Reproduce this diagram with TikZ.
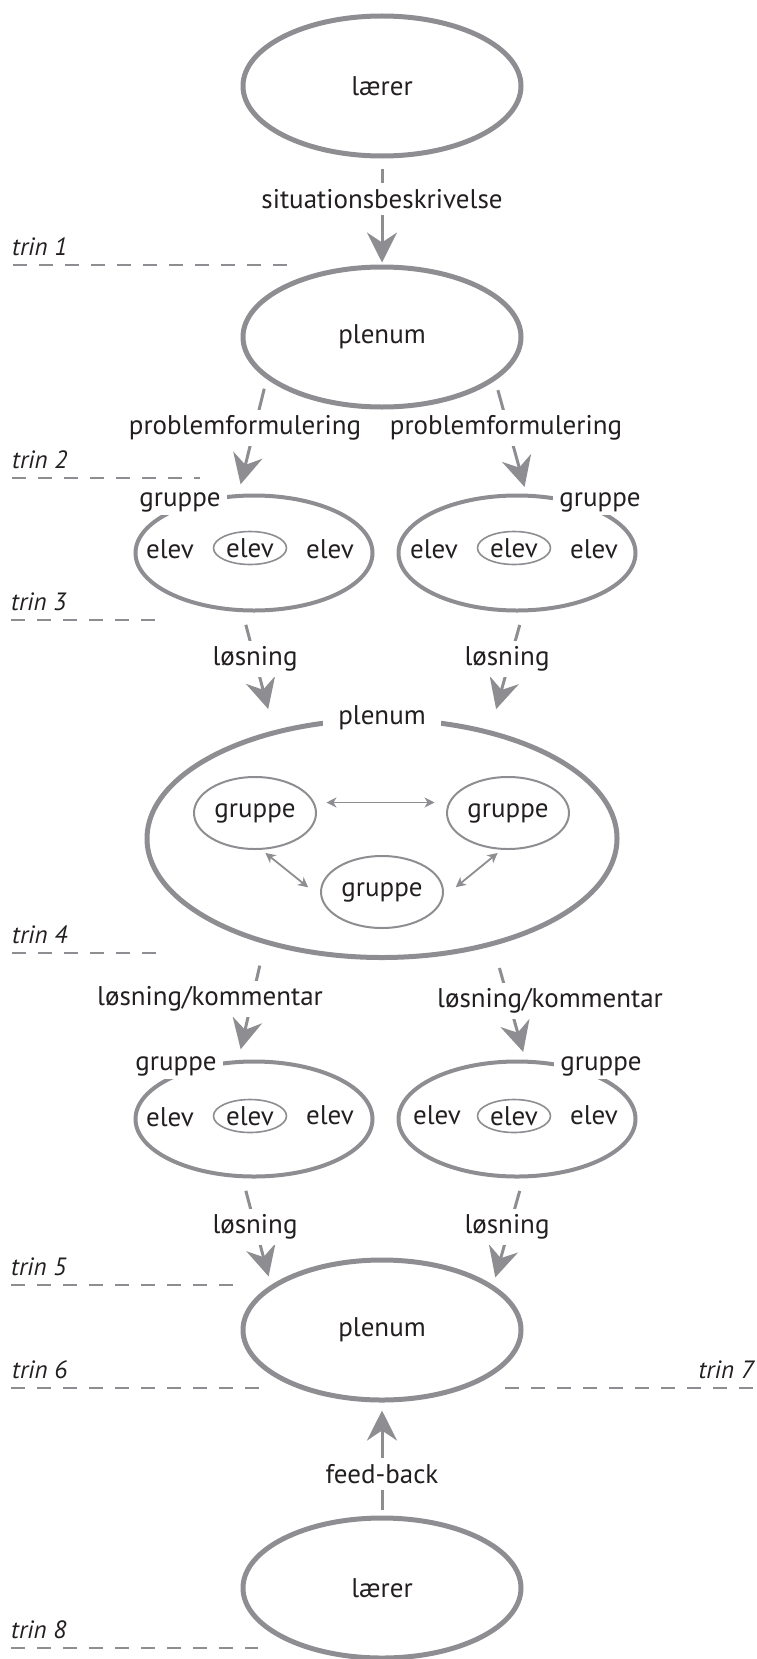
\documentclass[tikz,border=0pt]{standalone}
\usepackage{fontspec}
\setmainfont{PT Sans}
\usetikzlibrary{shapes.geometric,arrows.meta}
\definecolor{lg}{RGB}{142,142,146}
\definecolor{ink}{RGB}{35,31,32}
\tikzset{
  txt/.style={font=\fontsize{27}{32}\selectfont, text=ink},
  big/.style={ellipse, draw=lg, line width=5pt, minimum width=278pt, minimum height=140pt, inner sep=0pt, txt},
  grp/.style={ellipse, draw=lg, line width=4pt, minimum width=237pt, minimum height=115pt, inner sep=0pt},
  elevin/.style={ellipse, draw=lg, line width=1.6pt, minimum width=73pt, minimum height=33pt, inner sep=0pt, txt},
  sub/.style={ellipse, draw=lg, line width=2pt, minimum width=122pt, minimum height=72pt, inner sep=0pt, txt},
  tag/.style={txt, fill=white, inner xsep=6pt, inner ysep=3pt},
  lbl/.style={txt, fill=white, inner xsep=3pt, inner ysep=6pt},
  flow/.style={draw=lg, line width=3pt, -{Stealth[length=30pt, width=30pt, inset=10pt]}},
  swap/.style={draw=lg, line width=1.8pt, {Stealth[length=10pt, width=10pt, inset=3pt]}-{Stealth[length=10pt, width=10pt, inset=3pt]}},
  level/.style={draw=lg, line width=2.5pt, dash pattern=on 14pt off 12pt},
  trin/.style={font=\fontsize{25}{30}\selectfont\itshape, text=ink, inner sep=0pt}
}
\begin{document}
\begin{tikzpicture}[x=1pt, y=-1pt]
\useasboundingbox (0,0) rectangle (756,1659);

% main ellipses
\node[big] (laerer1) at (382,86) {lærer};
\node[big] (plenum1) at (382,337) {plenum};
\node[big] (plenum3) at (382,1330) {plenum};
\node[big] (laerer2) at (382,1588) {lærer};

% first round of groups
\node[grp] (g1L) at (254,553) {};
\node[grp] (g1R) at (517,553) {};
\node[tag] (g1Lt) at (180,502) {gruppe};
\node[tag] (g1Rt) at (600,502) {gruppe};
\node[txt] (e1L1) at (170,549) {elev};
\node[elevin] (e1L2) at (250,548) {elev};
\node[txt] (e1L3) at (330,549) {elev};
\node[txt] (e1R1) at (434,549) {elev};
\node[elevin] (e1R2) at (514,548) {elev};
\node[txt] (e1R3) at (594,549) {elev};

% the large plenum with three groups
\node[ellipse, draw=lg, line width=5pt, minimum width=470pt, minimum height=238pt, inner sep=0pt] (plenum2) at (382,838.5) {};
\node[txt, fill=white, inner xsep=15pt, inner ysep=6pt] (plenum2t) at (382,718) {plenum};
\node[sub] (sL) at (255,813) {gruppe};
\node[sub] (sR) at (508,813) {gruppe};
\node[sub] (sB) at (382,892) {gruppe};
\draw[swap, shorten <=12pt, shorten >=14pt] (sL.10) -- (sR.170);
\draw[swap, shorten <=5pt, shorten >=16pt] (sL.-80) -- (sB.185);
\draw[swap, shorten <=5pt, shorten >=16pt] (sR.-100) -- (sB.-5);

% second round of groups
\node[grp] (g2L) at (254,1119) {};
\node[grp] (g2R) at (517,1119) {};
\node[tag] (g2Lt) at (176,1066) {gruppe};
\node[tag] (g2Rt) at (601,1066) {gruppe};
\node[txt] (e2L1) at (170,1117) {elev};
\node[elevin] (e2L2) at (250,1116) {elev};
\node[txt] (e2L3) at (330,1115) {elev};
\node[txt] (e2R1) at (437,1115) {elev};
\node[elevin] (e2R2) at (514,1116) {elev};
\node[txt] (e2R3) at (594,1115) {elev};

% flows between the stages
\draw[flow, shorten <=10pt, shorten >=2pt] (laerer1) -- (plenum1);
\draw[flow, shorten <=10pt, shorten >=10pt] (plenum1.200) -- (g1L.105);
\draw[flow, shorten <=10pt, shorten >=7pt] (plenum1.339) -- (g1R.81);
\draw[flow, shorten <=13pt, shorten >=22pt] (g1L.259) -- (plenum2.135);
\draw[flow, shorten <=13pt, shorten >=22pt] (g1R.276) -- (plenum2.45.6);
\draw[flow, shorten <=22pt, shorten >=11pt] (plenum2.222) -- (g2L.105.6);
\draw[flow, shorten <=23pt, shorten >=8pt] (plenum2.316) -- (g2R.82);
\draw[flow, shorten <=13pt, shorten >=9pt] (g2L.259) -- (plenum3.158);
\draw[flow, shorten <=13pt, shorten >=8pt] (g2R.276) -- (plenum3.22);
\draw[flow, shorten <=6pt, shorten >=8pt] (laerer2) -- (plenum3);

% flow labels
\node[lbl] (l1) at (382,199) {situationsbeskrivelse};
\node[lbl] (l2L) at (245,428) {problemformulering};
\node[lbl] (l2R) at (506,428) {problemformulering};
\node[lbl] (l3L) at (255,659) {løsning};
\node[lbl] (l3R) at (507,659) {løsning};
\node[lbl] (l4L) at (210,999) {løsning/kommentar};
\node[lbl] (l4R) at (550,1001) {løsning/kommentar};
\node[lbl] (l5L) at (255,1227) {løsning};
\node[lbl] (l5R) at (507,1227) {løsning};
\node[lbl] (l6) at (382,1474) {feed-back};

% stage markers
\node[trin, anchor=west] (t1) at (12,247) {trin 1};
\draw[level] (13,265) -- (288,265);
\node[trin, anchor=west] (t2) at (12,460) {trin 2};
\draw[level] (12,478) -- (200,478);
\node[trin, anchor=west] (t3) at (11,602) {trin 3};
\draw[level] (11,620) -- (155,620);
\node[trin, anchor=west] (t4) at (12,935) {trin 4};
\draw[level] (12,953) -- (157,953);
\node[trin, anchor=west] (t5) at (11,1267) {trin 5};
\draw[level] (11,1285) -- (234,1285);
\node[trin, anchor=west] (t6) at (12,1370) {trin 6};
\draw[level] (11,1388) -- (261,1388);
\node[trin, anchor=east] (t7) at (754,1370) {trin 7};
\draw[level] (505,1388) -- (756,1388);
\node[trin, anchor=west] (t8) at (11,1630) {trin 8};
\draw[level] (11,1648) -- (258,1648);
\end{tikzpicture}
\end{document}
